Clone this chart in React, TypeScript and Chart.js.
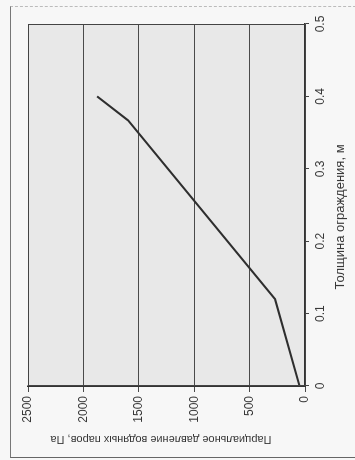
import React, { useEffect, useRef } from "react";
import { Chart, registerables } from "chart.js";

Chart.register(...registerables);

const thickness = [0, 0.12, 0.367, 0.4]; // m
const pressure = [50, 270, 1598, 1877]; // Pa
const thicknessTicks = [0, 0.1, 0.2, 0.3, 0.4, 0.5];
const pressureTicks = [0, 500, 1000, 1500, 2000, 2500];
const thicknessTitle = "Толщина ограждения, м";
const pressureTitle = "Парциальное давление водяных паров, Па";

const FONT = "'Liberation Sans', Arial, sans-serif";
const INK = "#383838";

const decorPlugin = {
  id: "decor",
  beforeDraw(chart: any) {
    const { ctx, chartArea: a } = chart;
    ctx.save();
    ctx.fillStyle = "#e8e8e8";
    ctx.fillRect(a.left, a.top, a.right - a.left, a.bottom - a.top);
    ctx.restore();
  },
  afterDraw(chart: any) {
    const { ctx, chartArea: a } = chart;
    ctx.save();
    ctx.strokeStyle = "#444";
    ctx.lineWidth = 1;
    ctx.strokeRect(a.left + 0.5, a.top + 0.5, a.right - a.left - 1, a.bottom - a.top);
    ctx.fillStyle = INK;
    ctx.textAlign = "center";
    ctx.textBaseline = "middle";
    // thickness axis title (horizontal in canvas frame)
    ctx.font = `13px ${FONT}`;
    ctx.fillText(thicknessTitle, a.left + (a.right - a.left) * 0.467, 340);
    // pressure axis title (vertical in canvas frame)
    ctx.font = `11px ${FONT}`;
    ctx.translate(21, a.top + (a.bottom - a.top) * 0.48);
    ctx.rotate(-Math.PI / 2);
    ctx.fillText(pressureTitle, 0, 0);
    ctx.restore();
  },
};

function ChartCanvas() {
  const ref = useRef<HTMLCanvasElement | null>(null);
  useEffect(() => {
    if (!ref.current) return;
    const chart = new Chart(ref.current, {
      type: "scatter",
      data: {
        datasets: [
          {
            data: thickness.map((t, i) => ({ x: t, y: pressure[i] })),
            showLine: true,
            borderColor: "#2e2e2e",
            borderWidth: 2,
            pointRadius: 0,
            fill: false,
            tension: 0,
          },
        ],
      },
      options: {
        responsive: false,
        animation: false,
        devicePixelRatio: 1,
        layout: { padding: { top: 28, right: 24, left: 0, bottom: 0 } },
        plugins: { legend: { display: false }, tooltip: { enabled: false } },
        scales: {
          x: {
            type: "linear",
            position: "bottom",
            min: 0,
            max: 0.5,
            afterFit: (s: any) => {
              s.height = 50;
            },
            afterBuildTicks: (s: any) => {
              s.ticks = thicknessTicks.map((v) => ({ value: v }));
            },
            ticks: {
              callback: (v: any) => String(v),
              font: { family: FONT, size: 12 },
              color: INK,
              padding: 4,
              maxRotation: 0,
              minRotation: 0,
            },
            grid: { display: true, drawOnChartArea: false, tickLength: 4, color: "#444" },
            border: { display: true, color: "#333", width: 1.5 },
          },
          y: {
            type: "linear",
            position: "left",
            min: 0,
            max: 2500,
            afterFit: (s: any) => {
              s.width = 74;
            },
            afterBuildTicks: (s: any) => {
              s.ticks = pressureTicks.map((v) => ({ value: v }));
            },
            ticks: {
              callback: (v: any) => String(v),
              font: { family: FONT, size: 12 },
              color: INK,
              padding: 4,
            },
            grid: { display: true, drawOnChartArea: true, tickLength: 6, color: "#4a4a4a", lineWidth: 1 },
            border: { display: true, color: "#333", width: 1.5 },
          },
        },
      },
      plugins: [decorPlugin],
    });
    return () => chart.destroy();
  }, []);
  return (
    <canvas
      ref={ref}
      width={460}
      height={355}
      style={{
        position: "absolute",
        left: 0,
        top: 0,
        width: 460,
        height: 355,
        transformOrigin: "0 0",
        transform: "translate(0px, 460px) rotate(-90deg)",
      }}
    />
  );
}

export default function App() {
  return (
    <div
      style={{
        position: "fixed",
        left: 0,
        top: 0,
        width: 355,
        height: 460,
        overflow: "hidden",
        background: "#f7f7f7",
      }}
    >
      <div
        style={{
          position: "absolute",
          left: 10,
          top: 6,
          width: 360,
          height: 450,
          borderLeft: "1px solid #777",
          borderTop: "1px dashed #bbb",
          borderBottom: "1px solid #666",
        }}
      />
      <ChartCanvas />
    </div>
  );
}
